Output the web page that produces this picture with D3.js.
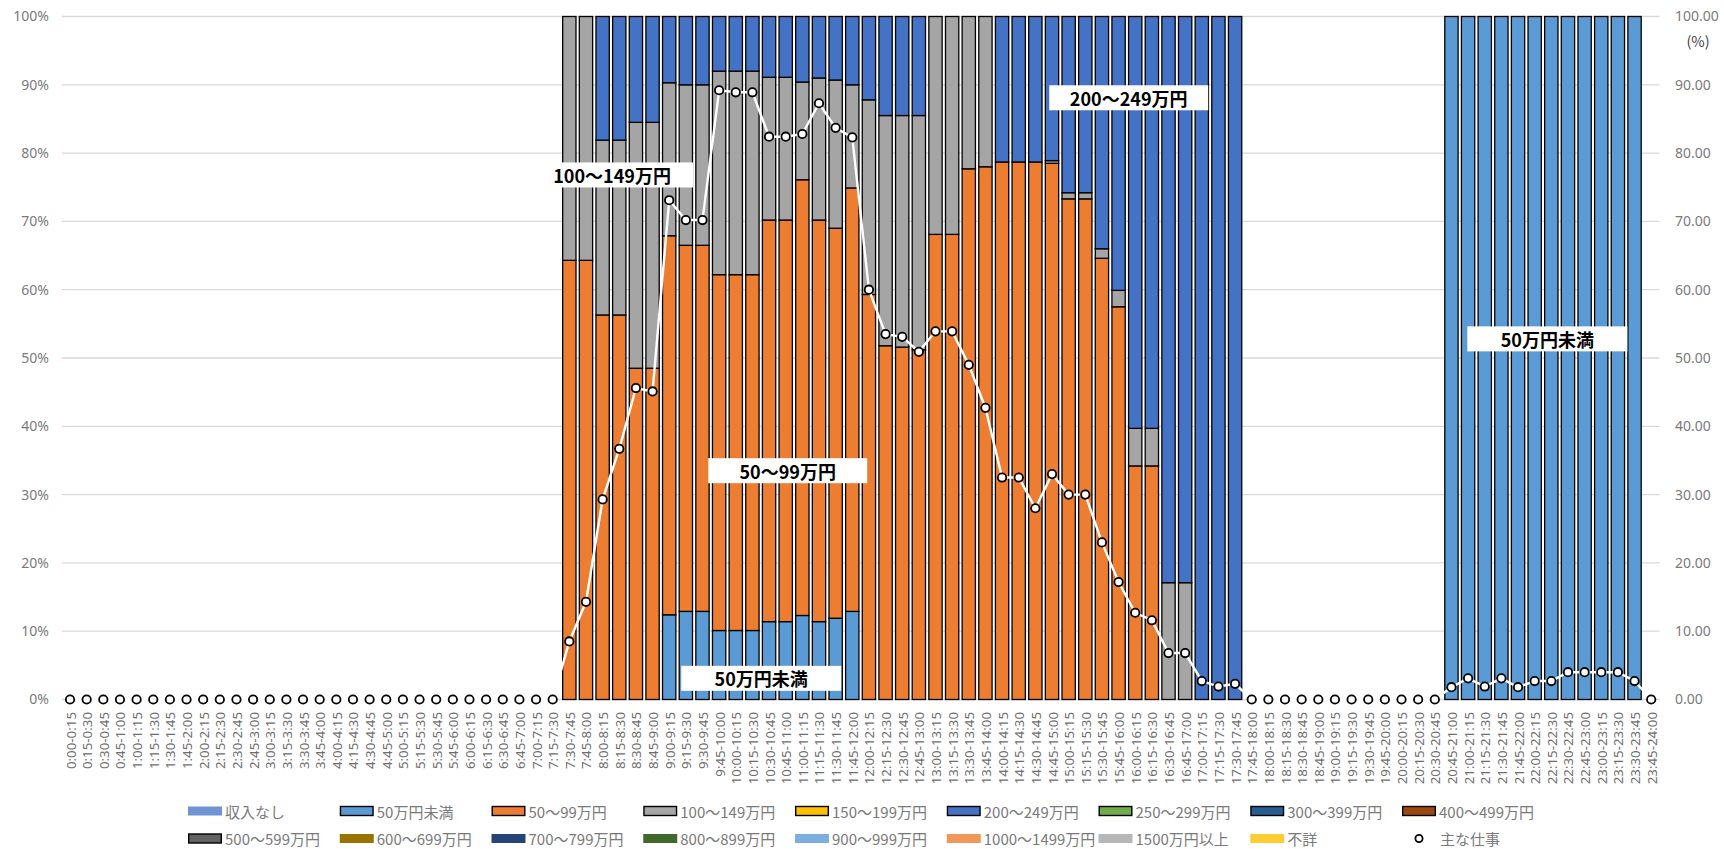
<!DOCTYPE html>
<html>
<head>
<meta charset="utf-8">
<script src="https://cdn.jsdelivr.net/npm/d3@7/dist/d3.min.js"></script>
<style>
  html, body { margin:0; padding:0; background:#fff; }
  svg { display:block; font-family:"Noto Sans CJK JP","Noto Sans",sans-serif; }
</style>
</head>
<body>
<svg id="chart" width="1724" height="849"></svg>
<script>
/* ---------- data ---------- */
const categories = [
  "0:00-0:15","0:15-0:30","0:30-0:45","0:45-1:00","1:00-1:15","1:15-1:30","1:30-1:45","1:45-2:00",
  "2:00-2:15","2:15-2:30","2:30-2:45","2:45-3:00","3:00-3:15","3:15-3:30","3:30-3:45","3:45-4:00",
  "4:00-4:15","4:15-4:30","4:30-4:45","4:45-5:00","5:00-5:15","5:15-5:30","5:30-5:45","5:45-6:00",
  "6:00-6:15","6:15-6:30","6:30-6:45","6:45-7:00","7:00-7:15","7:15-7:30","7:30-7:45","7:45-8:00",
  "8:00-8:15","8:15-8:30","8:30-8:45","8:45-9:00","9:00-9:15","9:15-9:30","9:30-9:45","9:45-10:00",
  "10:00-10:15","10:15-10:30","10:30-10:45","10:45-11:00","11:00-11:15","11:15-11:30","11:30-11:45","11:45-12:00",
  "12:00-12:15","12:15-12:30","12:30-12:45","12:45-13:00","13:00-13:15","13:15-13:30","13:30-13:45","13:45-14:00",
  "14:00-14:15","14:15-14:30","14:30-14:45","14:45-15:00","15:00-15:15","15:15-15:30","15:30-15:45","15:45-16:00",
  "16:00-16:15","16:15-16:30","16:30-16:45","16:45-17:00","17:00-17:15","17:15-17:30","17:30-17:45","17:45-18:00",
  "18:00-18:15","18:15-18:30","18:30-18:45","18:45-19:00","19:00-19:15","19:15-19:30","19:30-19:45","19:45-20:00",
  "20:00-20:15","20:15-20:30","20:30-20:45","20:45-21:00","21:00-21:15","21:15-21:30","21:30-21:45","21:45-22:00",
  "22:00-22:15","22:15-22:30","22:30-22:45","22:45-23:00","23:00-23:15","23:15-23:30","23:30-23:45","23:45-24:00"
];

// legend order = stacking order
const seriesNames = [
  "収入なし","50万円未満","50〜99万円","100〜149万円","150〜199万円","200〜249万円","250〜299万円",
  "300〜399万円","400〜499万円","500〜599万円","600〜699万円","700〜799万円","800〜899万円",
  "900〜999万円","1000〜1499万円","1500万円以上","不詳"
];
const seriesColors = [
  "#6f94d4","#5b9bd5","#ed7d31","#a5a5a5","#ffc000","#4472c4","#70ad47",
  "#255e91","#9e480e","#636363","#997300","#264478","#43682b",
  "#7cafdd","#f1975a","#b7b7b7","#ffcd33"
];
const seriesOutlined = [false,true,true,true,true,true,true,true,true,true,false,false,false,false,false,false,false];

// % share per time slot (only non-empty series listed; the others are 0)
const under50 = [
  0,0,0,0,0,0,0,0, 0,0,0,0,0,0,0,0, 0,0,0,0,0,0,0,0, 0,0,0,0,0,0,0,0,
  0,0,0,0,12.4,12.9,12.9,10.1, 10.1,10.1,11.4,11.4,12.3,11.4,11.9,12.9,
  0,0,0,0,0,0,0,0, 0,0,0,0,0,0,0,0, 0,0,0,0,0,0,0,0,
  0,0,0,0,0,0,0,0, 0,0,0,100,100,100,100,100, 100,100,100,100,100,100,100,0
];
const r50to99 = [
  0,0,0,0,0,0,0,0, 0,0,0,0,0,0,0,0, 0,0,0,0,0,0,0,0, 0,0,0,0,0,0,64.3,64.3,
  56.3,56.3,48.5,48.5,55.5,53.6,53.6,52.1, 52.1,52.1,58.8,58.8,63.8,58.8,57.1,62.0,
  59.3,51.8,51.6,51.2,68.1,68.1,77.7,78.0, 78.7,78.7,78.7,78.5,73.3,73.3,64.6,57.5, 34.2,34.2,0,0,0,0,0,0,
  0,0,0,0,0,0,0,0, 0,0,0,0,0,0,0,0, 0,0,0,0,0,0,0,0
];
const r100to149 = [
  0,0,0,0,0,0,0,0, 0,0,0,0,0,0,0,0, 0,0,0,0,0,0,0,0, 0,0,0,0,0,0,35.7,35.7,
  25.6,25.6,36.0,36.0,22.4,23.5,23.5,29.8, 29.8,29.8,20.9,20.9,14.3,20.8,21.7,15.1,
  28.5,33.7,33.9,34.3,31.9,31.9,22.3,22.0, 0,0,0,0.4,0.9,0.9,1.4,2.4, 5.5,5.5,17.1,17.1,0,0,0,0,
  0,0,0,0,0,0,0,0, 0,0,0,0,0,0,0,0, 0,0,0,0,0,0,0,0
];
const r200to249 = [
  0,0,0,0,0,0,0,0, 0,0,0,0,0,0,0,0, 0,0,0,0,0,0,0,0, 0,0,0,0,0,0,0,0,
  18.1,18.1,15.5,15.5,9.7,10.0,10.0,8.0, 8.0,8.0,8.9,8.9,9.6,9.0,9.3,10.0,
  12.2,14.5,14.5,14.5,0,0,0,0, 21.3,21.3,21.3,21.1,25.8,25.8,34.0,40.1, 60.3,60.3,82.9,82.9,100,100,100,0,
  0,0,0,0,0,0,0,0, 0,0,0,0,0,0,0,0, 0,0,0,0,0,0,0,0
];
const seriesValues = {
  "50万円未満": under50,
  "50〜99万円": r50to99,
  "100〜149万円": r100to149,
  "200〜249万円": r200to249
};

// line: 主な仕事 (right axis)
const lineName = "主な仕事";
const mainJob = [
  0,0,0,0,0,0,0,0, 0,0,0,0,0,0,0,0, 0,0,0,0,0,0,0,0, 0,0,0,0,0,0,8.5,14.3,
  29.3,36.7,45.6,45.1,73.1,70.2,70.2,89.2, 88.9,88.9,82.4,82.4,82.8,87.3,83.7,82.3,
  60.0,53.5,53.1,50.9,53.9,53.9,49.0,42.7, 32.5,32.5,28.0,33.0,30.0,30.0,23.0,17.2,
  12.7,11.6,6.8,6.8,2.7,1.9,2.3,0, 0,0,0,0,0,0,0,0,
  0,0,0,1.8,3.1,1.9,3.1,1.8, 2.7,2.7,4.0,4.0,4.0,4.0,2.7,0
];

const leftTicks = [0,10,20,30,40,50,60,70,80,90,100];
const leftTickLabels = ["0%","10%","20%","30%","40%","50%","60%","70%","80%","90%","100%"];
const rightTickLabels = ["0.00","10.00","20.00","30.00","40.00","50.00","60.00","70.00","80.00","90.00","100.00"];
const rightUnit = "(%)";

// in-chart labels: text, position in category units and %, box width
const callouts = [
  { text:"100〜149万円", at:33.67, v:76.8, w:142, dx:-10 },
  { text:"200〜249万円", at:64.11, v:88.1, w:159, dx:0 },
  { text:"50〜99万円",   at:43.62, v:33.5, w:159, dx:0 },
  { text:"50万円未満",   at:42.03, v:3.1,  w:160, dx:0 },
  { text:"50万円未満",   at:89.26, v:52.8, w:160, dx:0 }
];

/* ---------- layout ---------- */
const svg = d3.select("#chart");
const plot = { left:61.7, right:1659.5, top:16.5, bottom:699.5 };
const axisGray = "#7a7a7a";

const x = d3.scaleBand().domain(categories).range([plot.left, plot.right])
  .paddingInner(0.2).paddingOuter(0.1);
const xu = d3.scaleLinear().domain([0, categories.length]).range([plot.left, plot.right]);
const y = d3.scaleLinear().domain([0,100]).range([plot.bottom, plot.top]);
const y2 = d3.scaleLinear().domain([0,100]).range([plot.bottom, plot.top]);

// gridlines
svg.append("g").selectAll("line").data(leftTicks).join("line")
  .attr("x1", plot.left).attr("x2", plot.right)
  .attr("y1", d => y(d)).attr("y2", d => y(d))
  .attr("stroke", "#d9d9d9").attr("stroke-width", 1.3);

// left axis labels
const yAxisL = d3.axisLeft(y).tickValues(leftTicks).tickSize(0).tickPadding(0)
  .tickFormat((d,i) => leftTickLabels[i]);
const gL = svg.append("g").attr("transform", "translate(49,0)").call(yAxisL);
gL.select(".domain").remove();
gL.selectAll("text").style("font-size","14px").style("fill",axisGray)
  .style("font-family","'Noto Sans','Noto Sans CJK JP',sans-serif");

// right axis labels
const yAxisR = d3.axisRight(y2).tickValues(leftTicks).tickSize(0).tickPadding(0)
  .tickFormat((d,i) => rightTickLabels[i]);
const gR = svg.append("g").attr("transform", "translate(1675,0)").call(yAxisR);
gR.select(".domain").remove();
gR.selectAll("text").style("font-size","14px").style("fill",axisGray)
  .style("font-family","'Noto Sans','Noto Sans CJK JP',sans-serif");
svg.append("text").attr("x", 1698).attr("y", 40).attr("text-anchor","middle")
  .attr("dominant-baseline","central")
  .style("font-size","14.5px").style("fill","#404040").text(rightUnit);

// stacked bars
const table = categories.map((c,i) => {
  const row = { cat:c };
  seriesNames.forEach(s => { row[s] = seriesValues[s] ? seriesValues[s][i] : 0; });
  return row;
});
const stacked = d3.stack().keys(seriesNames)(table);

const barG = svg.append("g");
stacked.forEach((layer, si) => {
  barG.append("g").selectAll("rect")
    .data(layer.filter(d => d[1] - d[0] > 0))
    .join("rect")
    .attr("x", d => x(d.data.cat))
    .attr("width", x.bandwidth())
    .attr("y", d => y(d[1]))
    .attr("height", d => y(d[0]) - y(d[1]))
    .attr("fill", seriesColors[si])
    .attr("stroke", "#000").attr("stroke-width", 1.3);
});

// x labels
svg.append("g").selectAll("text").data(categories).join("text")
  .attr("transform", d => `translate(${x(d) + x.bandwidth()/2 + 0.5},712) rotate(-90)`)
  .attr("text-anchor","end").attr("dominant-baseline","central")
  .style("font-size","13.3px").style("fill","#6e6e6e")
  .style("font-family","'Noto Sans','Noto Sans CJK JP',sans-serif")
  .text(d => d);

// line + markers
const line = d3.line()
  .x((d,i) => x(categories[i]) + x.bandwidth()/2)
  .y(d => y2(d));
svg.append("path").datum(mainJob).attr("d", line)
  .attr("fill","none").attr("stroke","#fff").attr("stroke-width",2.4);
svg.append("g").selectAll("circle").data(mainJob).join("circle")
  .attr("cx", (d,i) => x(categories[i]) + x.bandwidth()/2)
  .attr("cy", d => y2(d))
  .attr("r", 4.2)
  .attr("fill","#fff").attr("stroke","#000").attr("stroke-width",1.8);

// call-out labels
const cg = svg.append("g").selectAll("g").data(callouts).join("g")
  .attr("transform", d => `translate(${xu(d.at)},${y(d.v)})`);
cg.append("rect").attr("x", d => -d.w/2).attr("y", -12.5).attr("width", d => d.w).attr("height", 25)
  .attr("fill","#fff");
cg.append("text").attr("x", d => d.dx).attr("text-anchor","middle").attr("dominant-baseline","central")
  .style("font-size","18px").style("font-weight","bold").style("fill","#000")
  .text(d => d.text);

// legend
const legendX0 = 188, legendStep = 151.75, legendRows = [811, 838.5], perRow = 9;
const legendItems = seriesNames.map((s,i) => ({ name:s, color:seriesColors[i], outlined:seriesOutlined[i], type:"bar" }))
  .concat([{ name:lineName, type:"marker" }]);
const lg = svg.append("g").selectAll("g").data(legendItems).join("g")
  .attr("transform", (d,i) => `translate(${legendX0 + (i % perRow) * legendStep},${legendRows[Math.floor(i / perRow)]})`);
lg.filter(d => d.type === "bar").append("rect")
  .attr("x", d => d.outlined ? 0.7 : 0).attr("y", -4.5)
  .attr("width", d => d.outlined ? 32.6 : 34).attr("height", 9)
  .attr("fill", d => d.color)
  .attr("stroke", d => d.outlined ? "#000" : "none").attr("stroke-width", 1.4);
lg.filter(d => d.type === "marker").append("circle")
  .attr("cx", 17).attr("cy", 0).attr("r", 3.6)
  .attr("fill","#fff").attr("stroke","#000").attr("stroke-width",1.8);
lg.append("text").attr("x", d => d.type === "marker" ? 38 : 37).attr("dominant-baseline","central")
  .style("font-size","15px").style("fill",axisGray)
  .text(d => d.name);
</script>
</body>
</html>
